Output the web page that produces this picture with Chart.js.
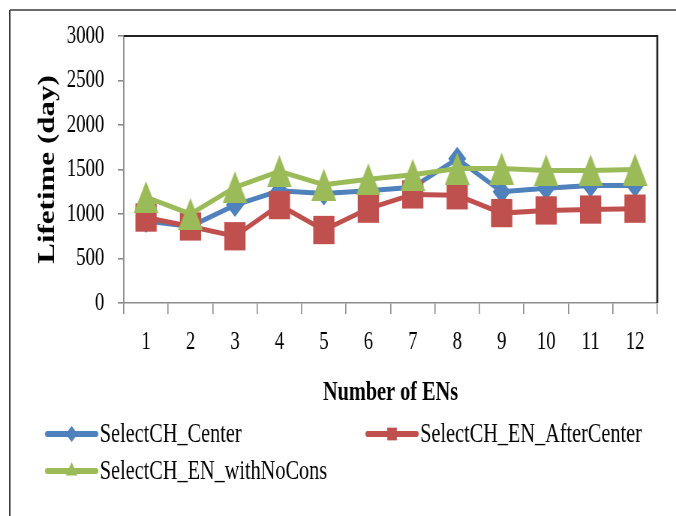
<!DOCTYPE html>
<html>
<head>
<meta charset="utf-8">
<script src="https://cdn.jsdelivr.net/npm/chart.js@4/dist/chart.umd.min.js"></script>
<style>
  html, body { margin: 0; padding: 0; background: #fff; overflow: hidden; }
  #wrap { width: 676px; height: 516px; overflow: hidden; position: relative; background: #fff; }
  /* the chart is laid out wide and then squeezed horizontally */
  #c { display: block; width: 901px; height: 516px; transform: scaleX(0.7503); transform-origin: 0 0; }
</style>
</head>
<body>
<div id="wrap"><canvas id="c" width="901" height="516"></canvas></div>
<script>
// Number of ENs on the x axis
const categories = ['1', '2', '3', '4', '5', '6', '7', '8', '9', '10', '11', '12'];

// Network lifetime in days for each CH selection scheme
const selectCHCenter        = [920, 860, 1100, 1260, 1230, 1260, 1300, 1620, 1250, 1290, 1320, 1320];
const selectCHENAfterCenter = [960, 860, 750, 1100, 820, 1060, 1220, 1210, 1010, 1040, 1050, 1060];
const selectCHENWithNoCons  = [1190, 1000, 1300, 1480, 1330, 1390, 1440, 1510, 1510, 1490, 1490, 1500];

const seriesNames = ['SelectCH_Center', 'SelectCH_EN_AfterCenter', 'SelectCH_EN_withNoCons'];
const yTicks = [0, 500, 1000, 1500, 2000, 2500, 3000];

const SERIF = '"Liberation Serif", "Times New Roman", serif';
const BLUE = '#4F81BD', RED = '#C0504D', GREEN = '#9BBB59';

// Tall triangle marker sprite, centred on its bounding box
function triangleSprite(w, h, color) {
  const c = document.createElement('canvas');
  c.width = w; c.height = h;
  const g = c.getContext('2d');
  g.fillStyle = color;
  g.beginPath();
  g.moveTo(w / 2, 0);
  g.lineTo(w, h);
  g.lineTo(0, h);
  g.closePath();
  g.fill();
  return c;
}
const greenTriangle = triangleSprite(33, 32, GREEN);

// Outer frame, top/right plot border and the two-column legend
const decorations = {
  id: 'decorations',
  afterDraw(chart) {
    const ctx = chart.ctx;
    const a = chart.chartArea;
    ctx.save();
    // outer frame
    ctx.strokeStyle = '#3a3a3a';
    ctx.lineWidth = 1.5;
    ctx.beginPath(); ctx.moveTo(13, 10); ctx.lineTo(chart.width + 5, 10); ctx.stroke();
    ctx.lineWidth = 2;
    ctx.beginPath(); ctx.moveTo(13, 10); ctx.lineTo(13, chart.height + 5); ctx.stroke();
    // plot area top and right edges
    ctx.strokeStyle = '#222';
    ctx.lineWidth = 2;
    ctx.beginPath(); ctx.moveTo(a.left, a.top); ctx.lineTo(a.right, a.top); ctx.stroke();
    ctx.lineWidth = 2.6;
    ctx.beginPath(); ctx.moveTo(a.right, a.top - 1); ctx.lineTo(a.right, a.bottom); ctx.stroke();

    // legend
    const slots = [
      { x: 60, y: 434 },
      { x: 487, y: 434 },
      { x: 60, y: 471 }
    ];
    const marks = [
      { style: 'rectRot', r: 8 },
      { style: 'rect', r: 9 },
      { style: 'triangle', r: 9 }
    ];
    chart.data.datasets.forEach((ds, i) => {
      const s = slots[i];
      const len = 71;
      ctx.strokeStyle = ds.borderColor;
      ctx.lineWidth = 6;
      ctx.lineCap = 'round';
      ctx.beginPath(); ctx.moveTo(s.x + 3, s.y); ctx.lineTo(s.x + len - 3, s.y); ctx.stroke();
      ctx.fillStyle = ds.borderColor;
      Chart.helpers.drawPoint(ctx, { pointStyle: marks[i].style, radius: marks[i].r, rotation: 0, borderWidth: 0 }, s.x + len / 2, s.y);
      ctx.fillStyle = '#000';
      ctx.font = '27px ' + SERIF;
      ctx.textBaseline = 'middle';
      ctx.textAlign = 'left';
      ctx.fillText(ds.label, s.x + len + 2, s.y + 1);
    });
    ctx.restore();
  }
};

new Chart(document.getElementById('c'), {
  type: 'line',
  data: {
    labels: categories,
    datasets: [
      {
        label: seriesNames[0], data: selectCHCenter, order: 3,
        borderColor: BLUE, backgroundColor: BLUE, borderWidth: 5,
        pointStyle: 'rectRot', pointRadius: 12, pointBorderWidth: 0,
        pointBackgroundColor: BLUE
      },
      {
        label: seriesNames[1], data: selectCHENAfterCenter, order: 2,
        borderColor: RED, backgroundColor: RED, borderWidth: 5,
        pointStyle: 'rect', pointRadius: 20, pointBorderWidth: 0,
        pointBackgroundColor: RED
      },
      {
        label: seriesNames[2], data: selectCHENWithNoCons, order: 1,
        borderColor: GREEN, backgroundColor: GREEN, borderWidth: 5,
        pointStyle: greenTriangle, pointRadius: 20, pointBorderWidth: 0,
        pointBackgroundColor: GREEN
      }
    ]
  },
  options: {
    responsive: false,
    animation: false,
    devicePixelRatio: 1,
    layout: { padding: { left: 45, top: 36, right: 25, bottom: 107 } },
    plugins: { legend: { display: false }, tooltip: { enabled: false } },
    elements: { line: { tension: 0 } },
    scales: {
      x: {
        type: 'category',
        offset: true,
        grid: { offset: true, drawOnChartArea: false, tickLength: 11, color: '#8c8c8c', lineWidth: 1.6 },
        border: { color: '#8c8c8c', width: 1.6 },
        ticks: { font: { family: SERIF, size: 25 }, color: '#000', padding: 13, maxRotation: 0, autoSkip: false },
        title: { display: true, text: 'Number of ENs', color: '#000', font: { family: SERIF, size: 27, weight: 'bold' }, padding: 0 },
        afterFit(s) { s.height = 106; }
      },
      y: {
        min: 0, max: 3000,
        afterBuildTicks(s) { s.ticks = yTicks.map(v => ({ value: v })); },
        grid: { drawOnChartArea: false, tickLength: 8, color: '#8c8c8c', lineWidth: 1.6 },
        border: { color: '#8c8c8c', width: 1.8 },
        ticks: { font: { family: SERIF, size: 25 }, color: '#000', padding: 18, callback: v => String(v) },
        title: { display: true, text: 'Lifetime (day)', color: '#000', font: { family: SERIF, size: 31, weight: 'bold' }, padding: 0 },
        afterFit(s) { s.width = 120; }
      }
    }
  },
  plugins: [decorations]
});
</script>
</body>
</html>
